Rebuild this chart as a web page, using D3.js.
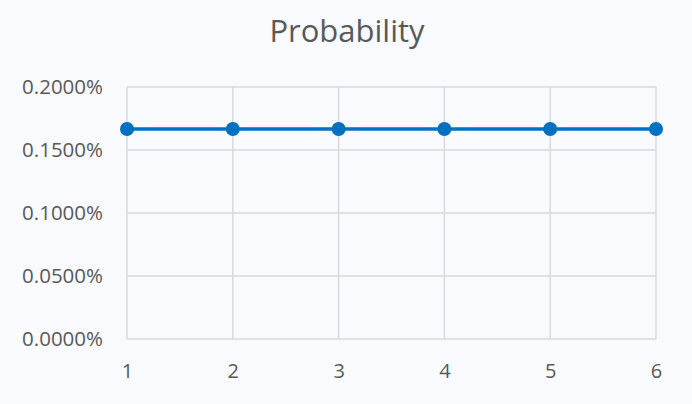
<!DOCTYPE html>
<html>
<head>
<meta charset="utf-8">
<script src="https://cdn.jsdelivr.net/npm/d3@7"></script>
<style>
  body { margin: 0; background: #f8fafd; }
  svg { display: block; font-family: "Open Sans", sans-serif; }
</style>
</head>
<body>
<svg width="692" height="404"></svg>
<script>
let width = 692;
let height = 404;

// data
let outcomes = [1, 2, 3, 4, 5, 6];
let probability = [0.001667, 0.001667, 0.001667, 0.001667, 0.001667, 0.001667];
let yTicks = [0, 0.0005, 0.001, 0.0015, 0.002];

let margin = { left: 127, right: 36, top: 87, bottom: 65 };

let x = d3.scaleLinear()
  .domain([1, 6])
  .range([margin.left, width - margin.right]);

let y = d3.scaleLinear()
  .domain([0, 0.002])
  .range([height - margin.bottom, margin.top]);

let svg = d3.select('svg');

svg.append('rect')
  .attr('width', width)
  .attr('height', height)
  .attr('fill', '#f8fafd');

svg.append('text')
  .attr('x', 347)
  .attr('y', 42)
  .attr('text-anchor', 'middle')
  .attr('fill', '#595959')
  .attr('font-size', 31)
  .text('Probability');

// gridlines
svg.append('g')
  .attr('class', 'rows')
  .selectAll('line')
  .data(yTicks)
  .enter()
    .append('line')
    .attr('stroke', '#d9d9d9')
    .attr('stroke-width', 1.5)
    .attr('x1', x(1))
    .attr('x2', x(6))
    .attr('y1', d => y(d))
    .attr('y2', d => y(d))
  ;

svg.append('g')
  .attr('class', 'columns')
  .selectAll('line')
  .data(outcomes)
  .enter()
    .append('line')
    .attr('stroke', '#d9d9d9')
    .attr('stroke-width', 1.5)
    .attr('x1', d => x(d))
    .attr('x2', d => x(d))
    .attr('y1', y(0))
    .attr('y2', y(0.002))
  ;

// axes labels
let yAxis = svg.append('g')
  .attr('transform', `translate(${margin.left - 24},0)`)
  .call(d3.axisLeft(y).tickValues(yTicks).tickFormat(d3.format('.4%')).tickSize(0).tickPadding(0));
yAxis.select('.domain').remove();
yAxis.selectAll('text')
  .attr('fill', '#595959')
  .attr('font-size', 20.5)
  .attr('font-family', '"Open Sans", sans-serif');

let xAxis = svg.append('g')
  .attr('transform', `translate(0,${y(0) + 25})`)
  .call(d3.axisBottom(x).tickValues(outcomes).tickFormat(d3.format('d')).tickSize(0).tickPadding(0));
xAxis.select('.domain').remove();
xAxis.selectAll('text')
  .attr('fill', '#595959')
  .attr('font-size', 20)
  .attr('font-family', '"Open Sans", sans-serif');

// series
let pts = outcomes.map((d, i) => [d, probability[i]]);

svg.append('path')
  .datum(pts)
  .attr('fill', 'none')
  .attr('stroke', '#0070c0')
  .attr('stroke-width', 3.5)
  .attr('d', d3.line().x(d => x(d[0])).y(d => y(d[1])));

svg.append('g')
  .selectAll('circle')
  .data(pts)
  .enter()
    .append('circle')
    .attr('cx', d => x(d[0]))
    .attr('cy', d => y(d[1]))
    .attr('r', 7)
    .attr('fill', '#0070c0')
  ;
</script>
</body>
</html>
